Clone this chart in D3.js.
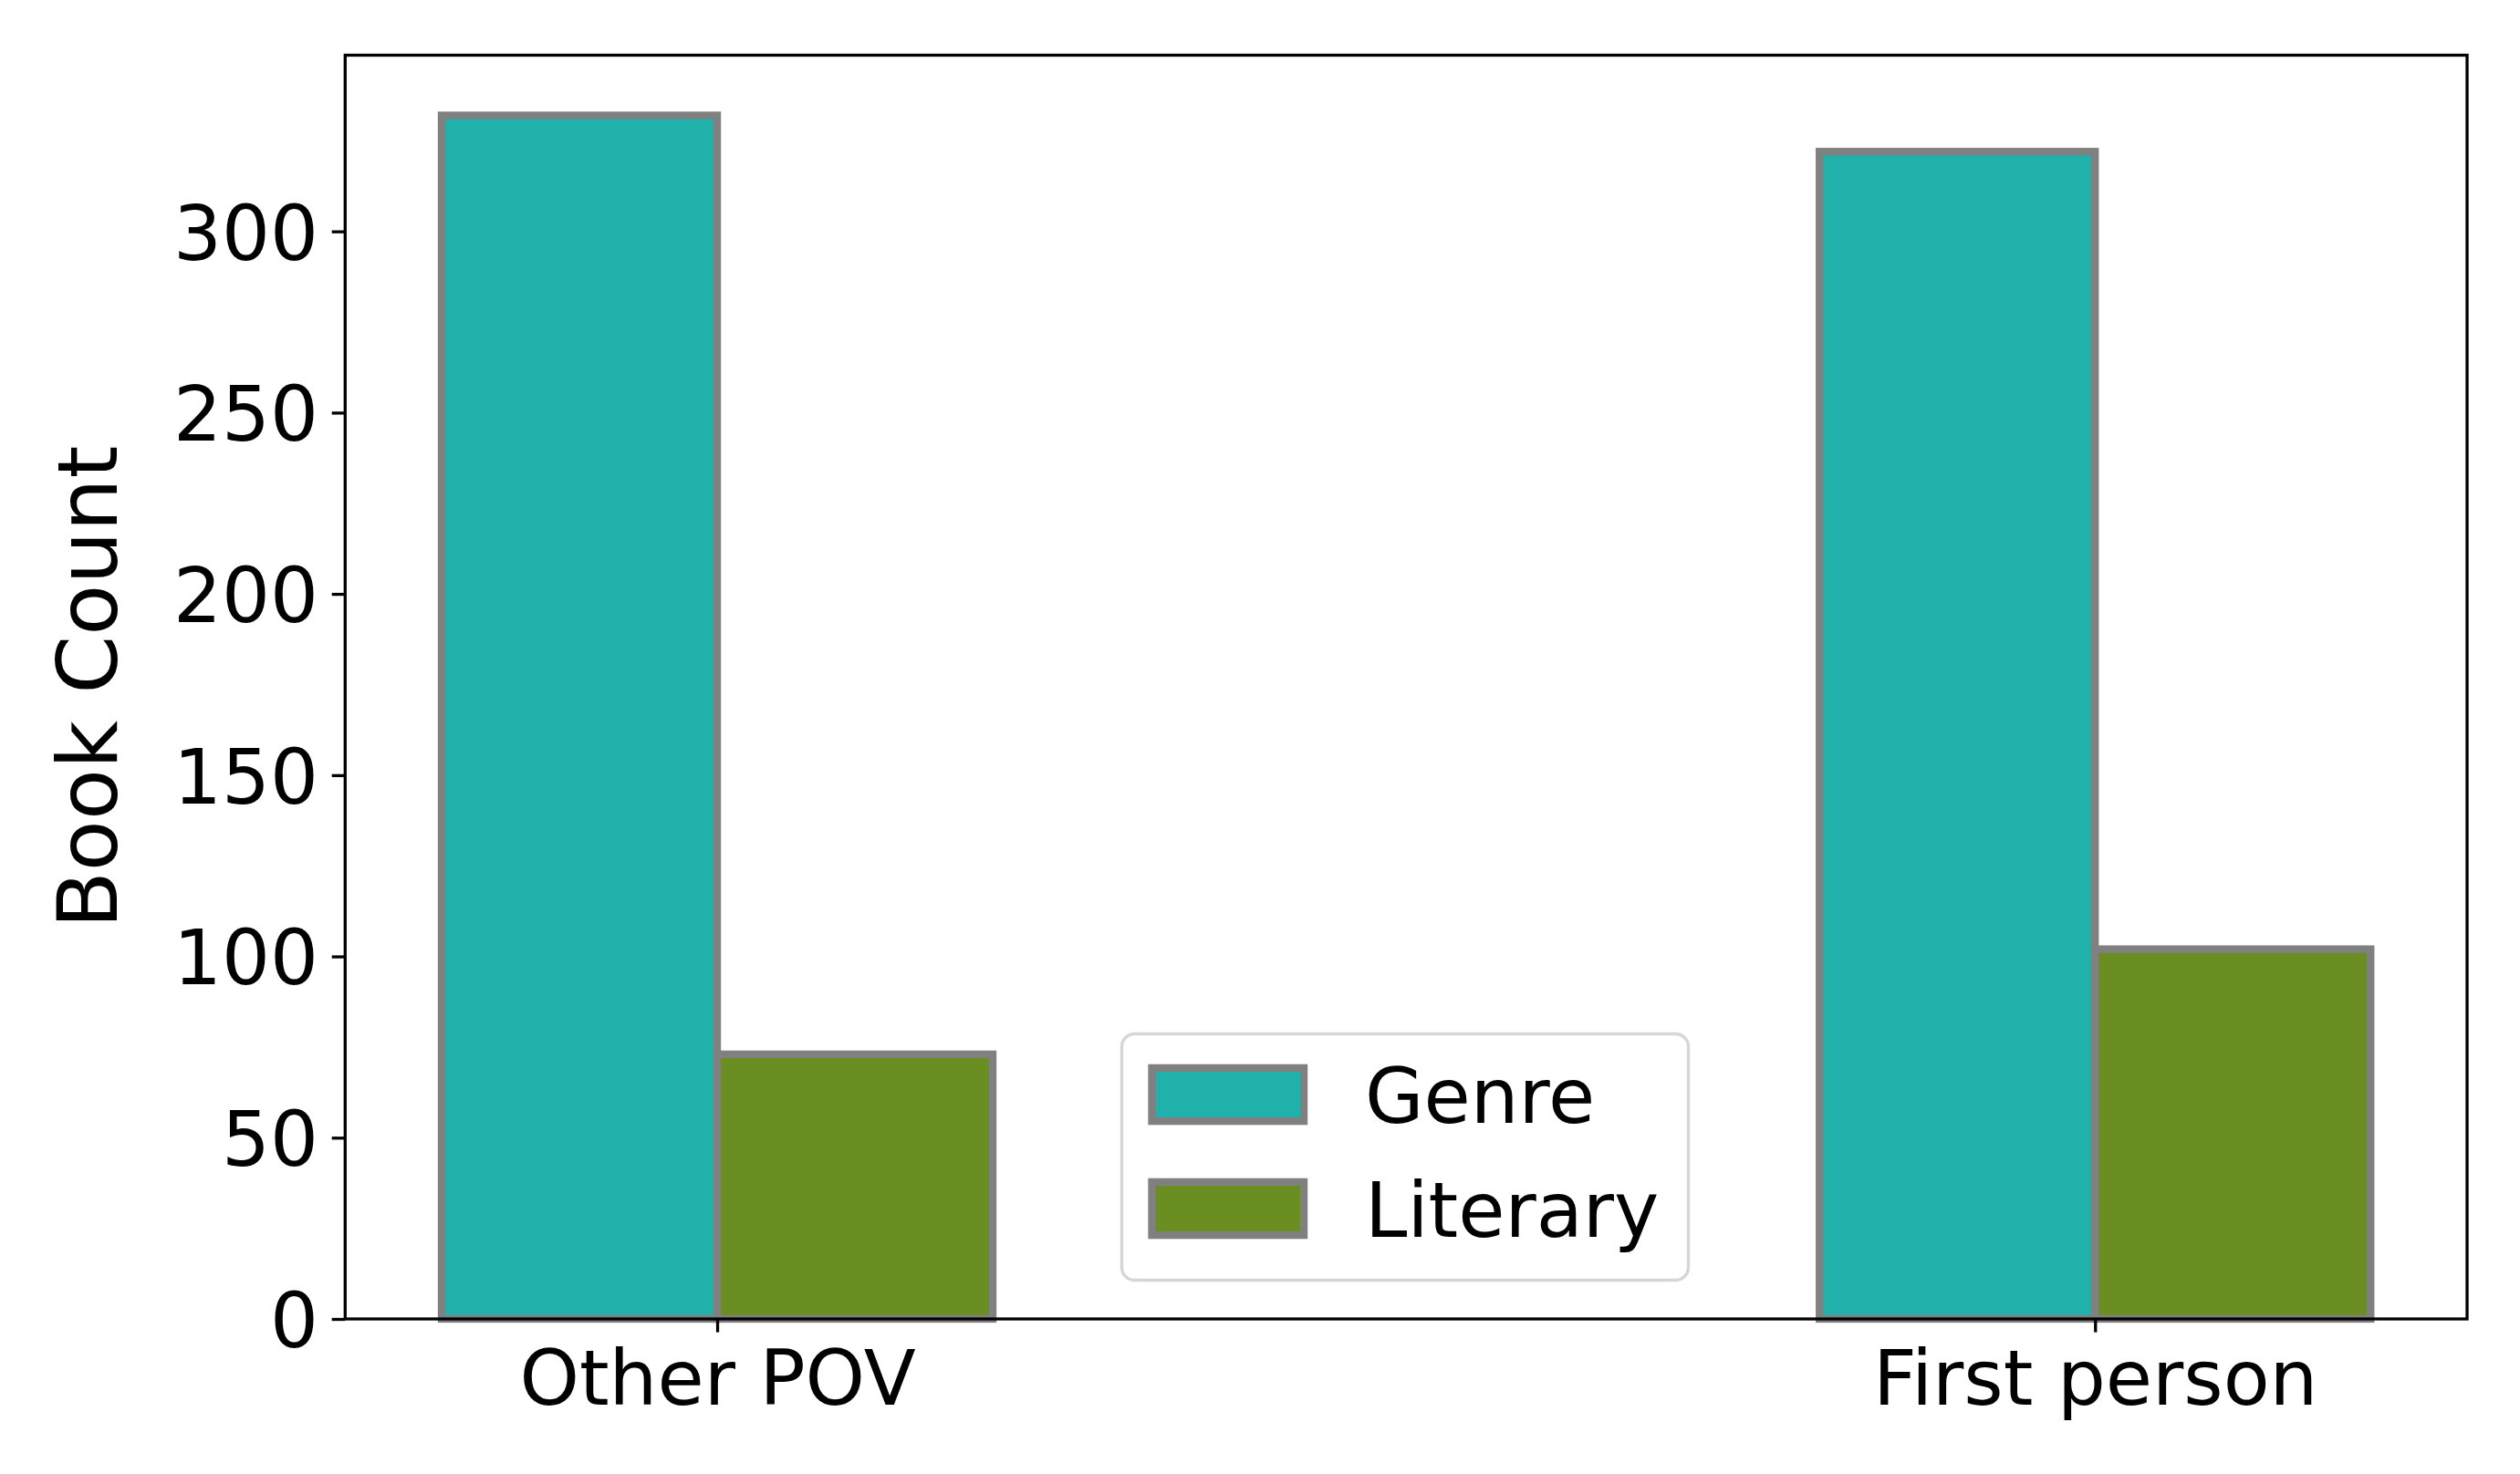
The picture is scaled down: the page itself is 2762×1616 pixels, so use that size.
<!DOCTYPE html>
<html>
<head>
<meta charset="utf-8">
<script src="https://cdn.jsdelivr.net/npm/d3@7/dist/d3.min.js"></script>
<style>
  html, body { margin: 0; padding: 0; background: #ffffff; }
  svg { display: block; }
  text { font-family: "DejaVu Sans", sans-serif; fill: #000; }
</style>
</head>
<body>
<script>
// ---- data ----
const categories = ["Other POV", "First person"];
const seriesNames = ["Genre", "Literary"];
const genreValues = [332, 322];
const literaryValues = [73, 102];
const yTickValues = [0, 50, 100, 150, 200, 250, 300];
const seriesColors = ["#20B2AA", "#6B8E23"];

// ---- layout ----
const W = 2762, H = 1616;
const plot = { left: 378.3, right: 2704, top: 60.5, bottom: 1446 };
const barWidth = 0.2;
const tickFont = 83.3, labelFont = 91.7;
const tickLen = 14.6, tickPad = 14.6;
const spineW = 3.3, barStroke = 8.3;

const svg = d3.select("body").append("svg")
  .attr("width", W).attr("height", H)
  .attr("viewBox", `0 0 ${W} ${H}`);
svg.append("rect").attr("width", W).attr("height", H).attr("fill", "#fff");

const x = d3.scaleLinear().domain([-0.27, 1.27]).range([plot.left, plot.right]);
const yMax = d3.max(genreValues.concat(literaryValues)) * 1.05;
const y = d3.scaleLinear().domain([0, yMax]).range([plot.bottom, plot.top]);

const series = [genreValues, literaryValues];

// bars
series.forEach((vals, si) => {
  svg.append("g").selectAll("rect")
    .data(vals.map((v, i) => ({ v, i })))
    .join("rect")
    .attr("x", d => x(d.i + (si === 0 ? -barWidth : 0)))
    .attr("width", d => x(d.i + barWidth) - x(d.i))
    .attr("y", d => y(d.v))
    .attr("height", d => y(0) - y(d.v))
    .attr("fill", seriesColors[si])
    .attr("stroke", "#808080")
    .attr("stroke-width", barStroke);
});

// spines
const frame = svg.append("rect")
  .attr("x", plot.left).attr("y", plot.top)
  .attr("width", plot.right - plot.left).attr("height", plot.bottom - plot.top)
  .attr("fill", "none").attr("stroke", "#000").attr("stroke-width", spineW);

// y axis
const yAxis = d3.axisLeft(y).tickValues(yTickValues).tickSize(tickLen).tickPadding(tickPad)
  .tickFormat(d3.format("d"));
const gy = svg.append("g").attr("transform", `translate(${plot.left},0)`).call(yAxis);
gy.select(".domain").remove();
gy.selectAll(".tick line").attr("stroke", "#000").attr("stroke-width", spineW);
gy.selectAll(".tick text")
  .attr("font-family", "DejaVu Sans").attr("font-size", tickFont)
  .attr("dy", "0.3645em").attr("fill", "#000");

// x axis
const xAxis = d3.axisBottom(x).tickValues(categories.map((c, i) => i))
  .tickFormat(i => categories[i]).tickSize(tickLen).tickPadding(tickPad);
const gx = svg.append("g").attr("transform", `translate(0,${plot.bottom})`).call(xAxis);
gx.select(".domain").remove();
gx.selectAll(".tick line").attr("stroke", "#000").attr("stroke-width", spineW);
gx.selectAll(".tick text")
  .attr("font-family", "DejaVu Sans").attr("font-size", tickFont)
  .attr("y", 94).attr("dy", 0).attr("fill", "#000");

// y label
svg.append("text")
  .attr("transform", `translate(128,${(plot.top + plot.bottom) / 2}) rotate(-90)`)
  .attr("text-anchor", "middle")
  .attr("font-size", labelFont)
  .text("Book Count");

// legend
const lg = svg.append("g");
lg.append("rect")
  .attr("x", 1229.5).attr("y", 1133.5).attr("width", 621).attr("height", 270)
  .attr("rx", 14).attr("ry", 14)
  .attr("fill", "#fff").attr("fill-opacity", 0.8)
  .attr("stroke", "#d6d6d6").attr("stroke-width", spineW);
const rows = [1200, 1325];
seriesNames.forEach((name, i) => {
  lg.append("rect")
    .attr("x", 1262.5).attr("y", rows[i] - 29.15)
    .attr("width", 166.6).attr("height", 58.3)
    .attr("fill", seriesColors[i]).attr("stroke", "#808080").attr("stroke-width", barStroke);
  lg.append("text")
    .attr("x", 1496).attr("y", rows[i] + 30.5)
    .attr("font-size", tickFont)
    .text(name);
});
</script>
</body>
</html>
